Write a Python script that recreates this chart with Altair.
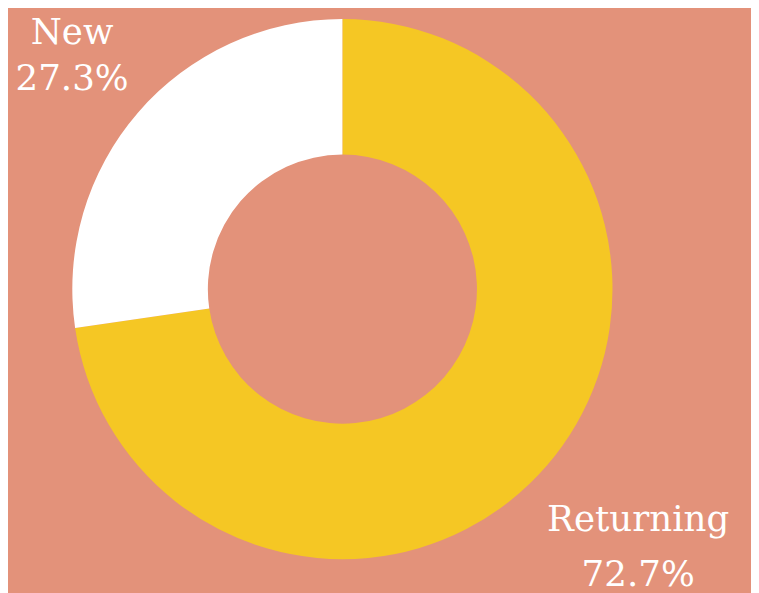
import altair as alt
import pandas as pd

categories = ["Returning", "New"]
values = [72.7, 27.3]
colors = ["#F5C724", "#FFFFFF"]

df = pd.DataFrame({"category": categories, "value": values})

CX, CY = 338, 281

arcs = alt.Chart(df).mark_arc(radius=273, innerRadius=136, stroke=None).encode(
    theta=alt.Theta("value:Q", stack=True),
    order=alt.Order("value:Q", sort="descending"),
    color=alt.Color("category:N", sort=categories,
                    scale=alt.Scale(domain=categories, range=colors), legend=None),
    x=alt.value(CX), y=alt.value(CY),
)

labels_base = alt.Chart(df).transform_window(
    cum="sum(value)", sort=[alt.SortField("value", order="descending")]
).transform_calculate(
    mid="datum.cum - datum.value / 2",
    label="datum.category + '\\n' + format(datum.value, '.1f') + '%'",
)

def label_layer(cat, r, dx, dy, lh):
    return labels_base.transform_filter(alt.datum.category == cat).mark_text(
        radius=r, font="DejaVu Serif", fontSize=36, color="white",
        align="center", baseline="middle", lineBreak="\n", lineHeight=lh,
        dx=dx, dy=dy,
    ).encode(
        theta=alt.Theta("mid:Q", stack=None, scale=alt.Scale(domain=[0, 100])),
        text="label:N", x=alt.value(CX), y=alt.value(CY),
    )

chart = alt.layer(
    arcs,
    label_layer("New", 356, -4, -26, 47),
    label_layer("Returning", 390, 4, -22, 56),
).properties(
    width=751, height=585, padding=0, autosize="none", background="#E3927A"
).configure_view(stroke=None)

chart.save("out.html", embed_options={"renderer": "svg", "actions": False})
